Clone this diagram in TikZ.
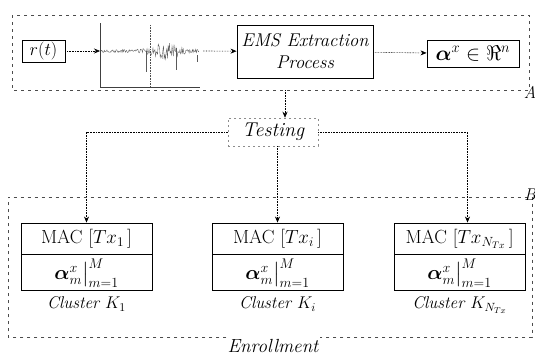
\RequirePackage{fix-cm}
\documentclass[tikz,border=0pt]{standalone}
\usepackage{amsmath,amssymb,bm}
\usetikzlibrary{arrows.meta}

\newcommand{\coefrow}{\raisebox{-2.5pt}{$\bm{\alpha}^{x}_{m}\big|^{M}_{m=1}$}}

\begin{document}
\begin{tikzpicture}[x=1pt,y=-1pt,
  frame/.style={draw=black!70, line width=0.6pt, dash pattern=on 3pt off 4pt},
  box/.style={draw, line width=0.9pt, inner sep=1pt, align=center},
  cell/.style={draw, line width=0.9pt, minimum width=131pt, inner sep=0pt},
  mac/.style={font=\fontsize{19}{21}\selectfont},
  coef/.style={font=\fontsize{20}{22}\selectfont},
  lbl/.style={font=\fontsize{17}{19}\selectfont\itshape, inner sep=1pt},
  link/.style={line width=0.6pt, densely dotted, -{Stealth[length=6pt,width=5pt]}},
  wave/.style={draw=black!65, line width=0.35pt},
  axis/.style={draw=black!75, line width=0.8pt}
]
\useasboundingbox (0,0) rectangle (535,356);

% ---- stage A: signal acquisition and feature extraction ----
\draw[frame] (12,15) rectangle (529,90);
\node[lbl] (labA) at (530,92) {A};

\node[box, minimum width=43pt, minimum height=22pt,
      font=\fontsize{18}{20}\selectfont] (rt) at (43.5,51) {$r(t)$};

% sampled waveform with axes
\coordinate (wavein) at (100,51);
\coordinate (waveout) at (203,51);
\draw[axis] (100,23) -- (100,87) -- (200,87);
\draw[black!70, line width=0.6pt, densely dotted] (150,25) -- (150,87);
\pgfmathsetseed{7}
\draw[wave] plot[domain=101:199, samples=150, variable=\t]
  (\t, {51 + rand*(1.5 + 7*exp(-((\t-165)/16)*((\t-165)/16)))});
\draw[wave] (146,51) -- (146,72);
\draw[wave] (176,48) -- (176,70);
\draw[wave] (197,55) -- (197,62);

\node[box, minimum width=136pt, minimum height=53pt,
      font=\fontsize{18.5}{22}\selectfont\itshape] (ems) at (305,51.5)
      {EMS Extraction\\Process};
\node[box, minimum width=92pt, minimum height=27pt,
      font=\fontsize{21}{23}\selectfont] (feat) at (473,53.5)
      {$\bm{\alpha}^{x}\in\Re^{n}$};

\draw[link] (rt) -- (wavein);
\draw[link] (waveout) -- (ems);
\draw[link] (ems) -- (feat);

% ---- testing branch ----
\coordinate (fromA) at (285,90);
\node[draw=black!45, line width=0.5pt, dash pattern=on 2pt off 3pt,
      minimum width=90pt, minimum height=28pt, inner sep=1pt,
      font=\fontsize{20}{22}\selectfont\itshape] (test) at (273,132) {Testing};
\draw[link] (fromA) -- (fromA |- test.north);

% ---- stage B: enrollment clusters ----
\node[cell, mac, minimum height=31pt] (m1) at (86.5,238.5) {MAC $[Tx_{1}\,]$};
\node[cell, coef, minimum height=36pt, anchor=north] (a1) at (m1.south) {\coefrow};
\node[lbl] (k1) at (86.5,304) {Cluster $K_{1}$};

\node[cell, mac, minimum height=31pt] (m2) at (277.5,238.5) {MAC $[Tx_{i}\,]$};
\node[cell, coef, minimum height=36pt, anchor=north] (a2) at (m2.south) {\coefrow};
\node[lbl] (k2) at (277.5,304) {Cluster $K_{i}$};

\node[cell, mac, minimum height=31pt] (m3) at (459.5,238.5) {MAC $[Tx_{N_{Tx}}\,]$};
\node[cell, coef, minimum height=36pt, anchor=north] (a3) at (m3.south) {\coefrow};
\node[lbl] (k3) at (459.5,305) {Cluster $K_{N_{Tx}}$};

\draw[link] (test.west) -| (m1.north);
\draw[link] (m2.north |- test.south) -- (m2.north);
\draw[link] (test.east) -| ([xshift=8pt]m3.north);

\node[lbl, font=\fontsize{19}{21}\selectfont\itshape] (enr) at (273,346) {Enrollment};
\coordinate (bl) at (8,337);
\draw[frame] (enr.west |- bl) -- (bl) -- (8,197) -- (532,197) -- (532,337)
  -- (enr.east |- bl);
\node[lbl] (labB) at (530,195) {B};
\end{tikzpicture}
\end{document}
